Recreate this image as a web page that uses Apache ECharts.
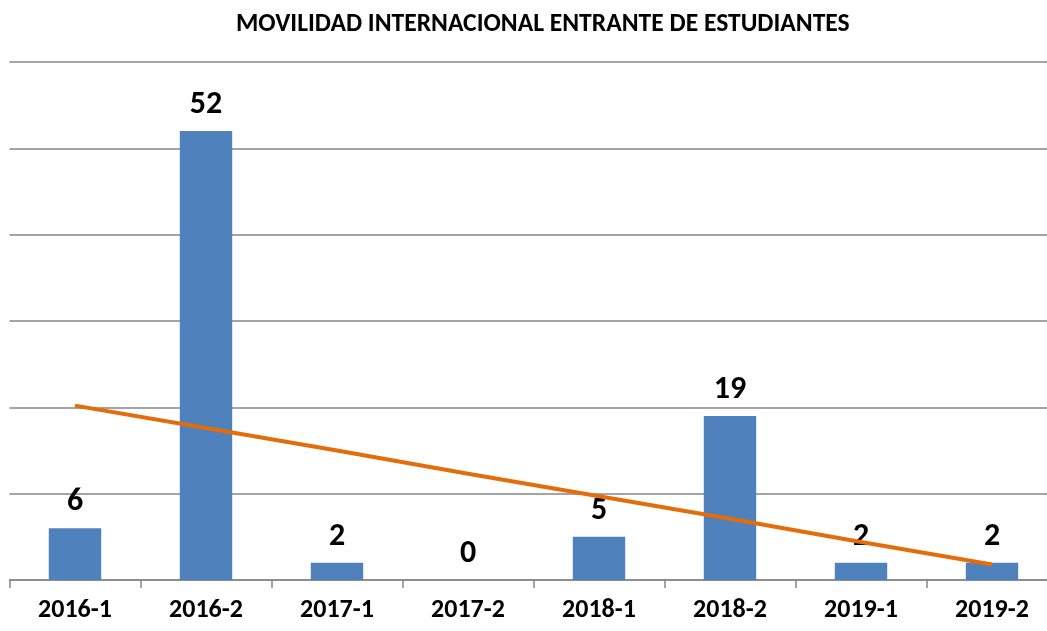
<!DOCTYPE html>
<html>
<head>
<meta charset="utf-8">
<script src="https://cdn.jsdelivr.net/npm/echarts@6/dist/echarts.min.js"></script>
<style>
html, body { margin: 0; padding: 0; background: #fff; }
#chart { width: 1047px; height: 631px; }
</style>
</head>
<body>
<div id="chart"></div>
<script>
var periods = ['2016-1', '2016-2', '2017-1', '2017-2', '2018-1', '2018-2', '2019-1', '2019-2'];
var students = [6, 52, 2, 0, 5, 19, 2, 2];
// linear trend line
var trend = [20.2, 17.6, 15.0, 12.3, 9.7, 7.1, 4.4, 1.8];

var fontFam = 'Carlito, "Open Sans", "Liberation Sans", sans-serif';

var chart = echarts.init(document.getElementById('chart'));
var option = {
    animation: false,
    title: {
        text: 'MOVILIDAD INTERNACIONAL ENTRANTE DE ESTUDIANTES',
        left: 231,
        top: 7,
        textStyle: { fontFamily: fontFam, fontWeight: 'bold', fontSize: 25.6, color: '#000' }
    },
    grid: {
        left: 9.5, right: -10.5, top: 62, bottom: 51,
        containLabel: false,
        outerBoundsMode: 'none'
    },
    xAxis: {
        type: 'category',
        data: periods,
        axisLine: { lineStyle: { color: '#868686', width: 1.5 } },
        axisTick: { show: true, length: 8, lineStyle: { color: '#868686', width: 1.5 } },
        // category names are drawn by the zero-height series below
        axisLabel: { show: false }
    },
    yAxis: {
        type: 'value',
        min: 0,
        max: 60,
        interval: 10,
        axisLabel: { show: false },
        axisLine: { show: false },
        axisTick: { show: false },
        splitLine: { lineStyle: { color: '#868686', width: 1.5 } }
    },
    series: [{
        name: 'Estudiantes',
        type: 'bar',
        data: students,
        barWidth: '40%',
        itemStyle: { color: '#4F81BD' },
        label: {
            show: true,
            position: 'top',
            distance: 10,
            fontFamily: fontFam,
            fontWeight: 'bold',
            fontSize: 32,
            color: '#000'
        }
    }, {
        name: 'Periodo',
        type: 'bar',
        data: periods.map(function () { return 0; }),
        barWidth: '40%',
        barGap: '-100%',
        silent: true,
        itemStyle: { color: 'transparent' },
        label: {
            show: true,
            position: 'bottom',
            distance: 17,
            formatter: '{b}',
            fontFamily: fontFam,
            fontWeight: 'bold',
            fontSize: 26,
            color: '#000'
        }
    }, {
        name: 'Tendencia',
        type: 'line',
        data: trend,
        symbol: 'none',
        z: 5,
        lineStyle: { color: '#E46C0A', width: 4 }
    }]
};
chart.setOption(option);
</script>
</body>
</html>
